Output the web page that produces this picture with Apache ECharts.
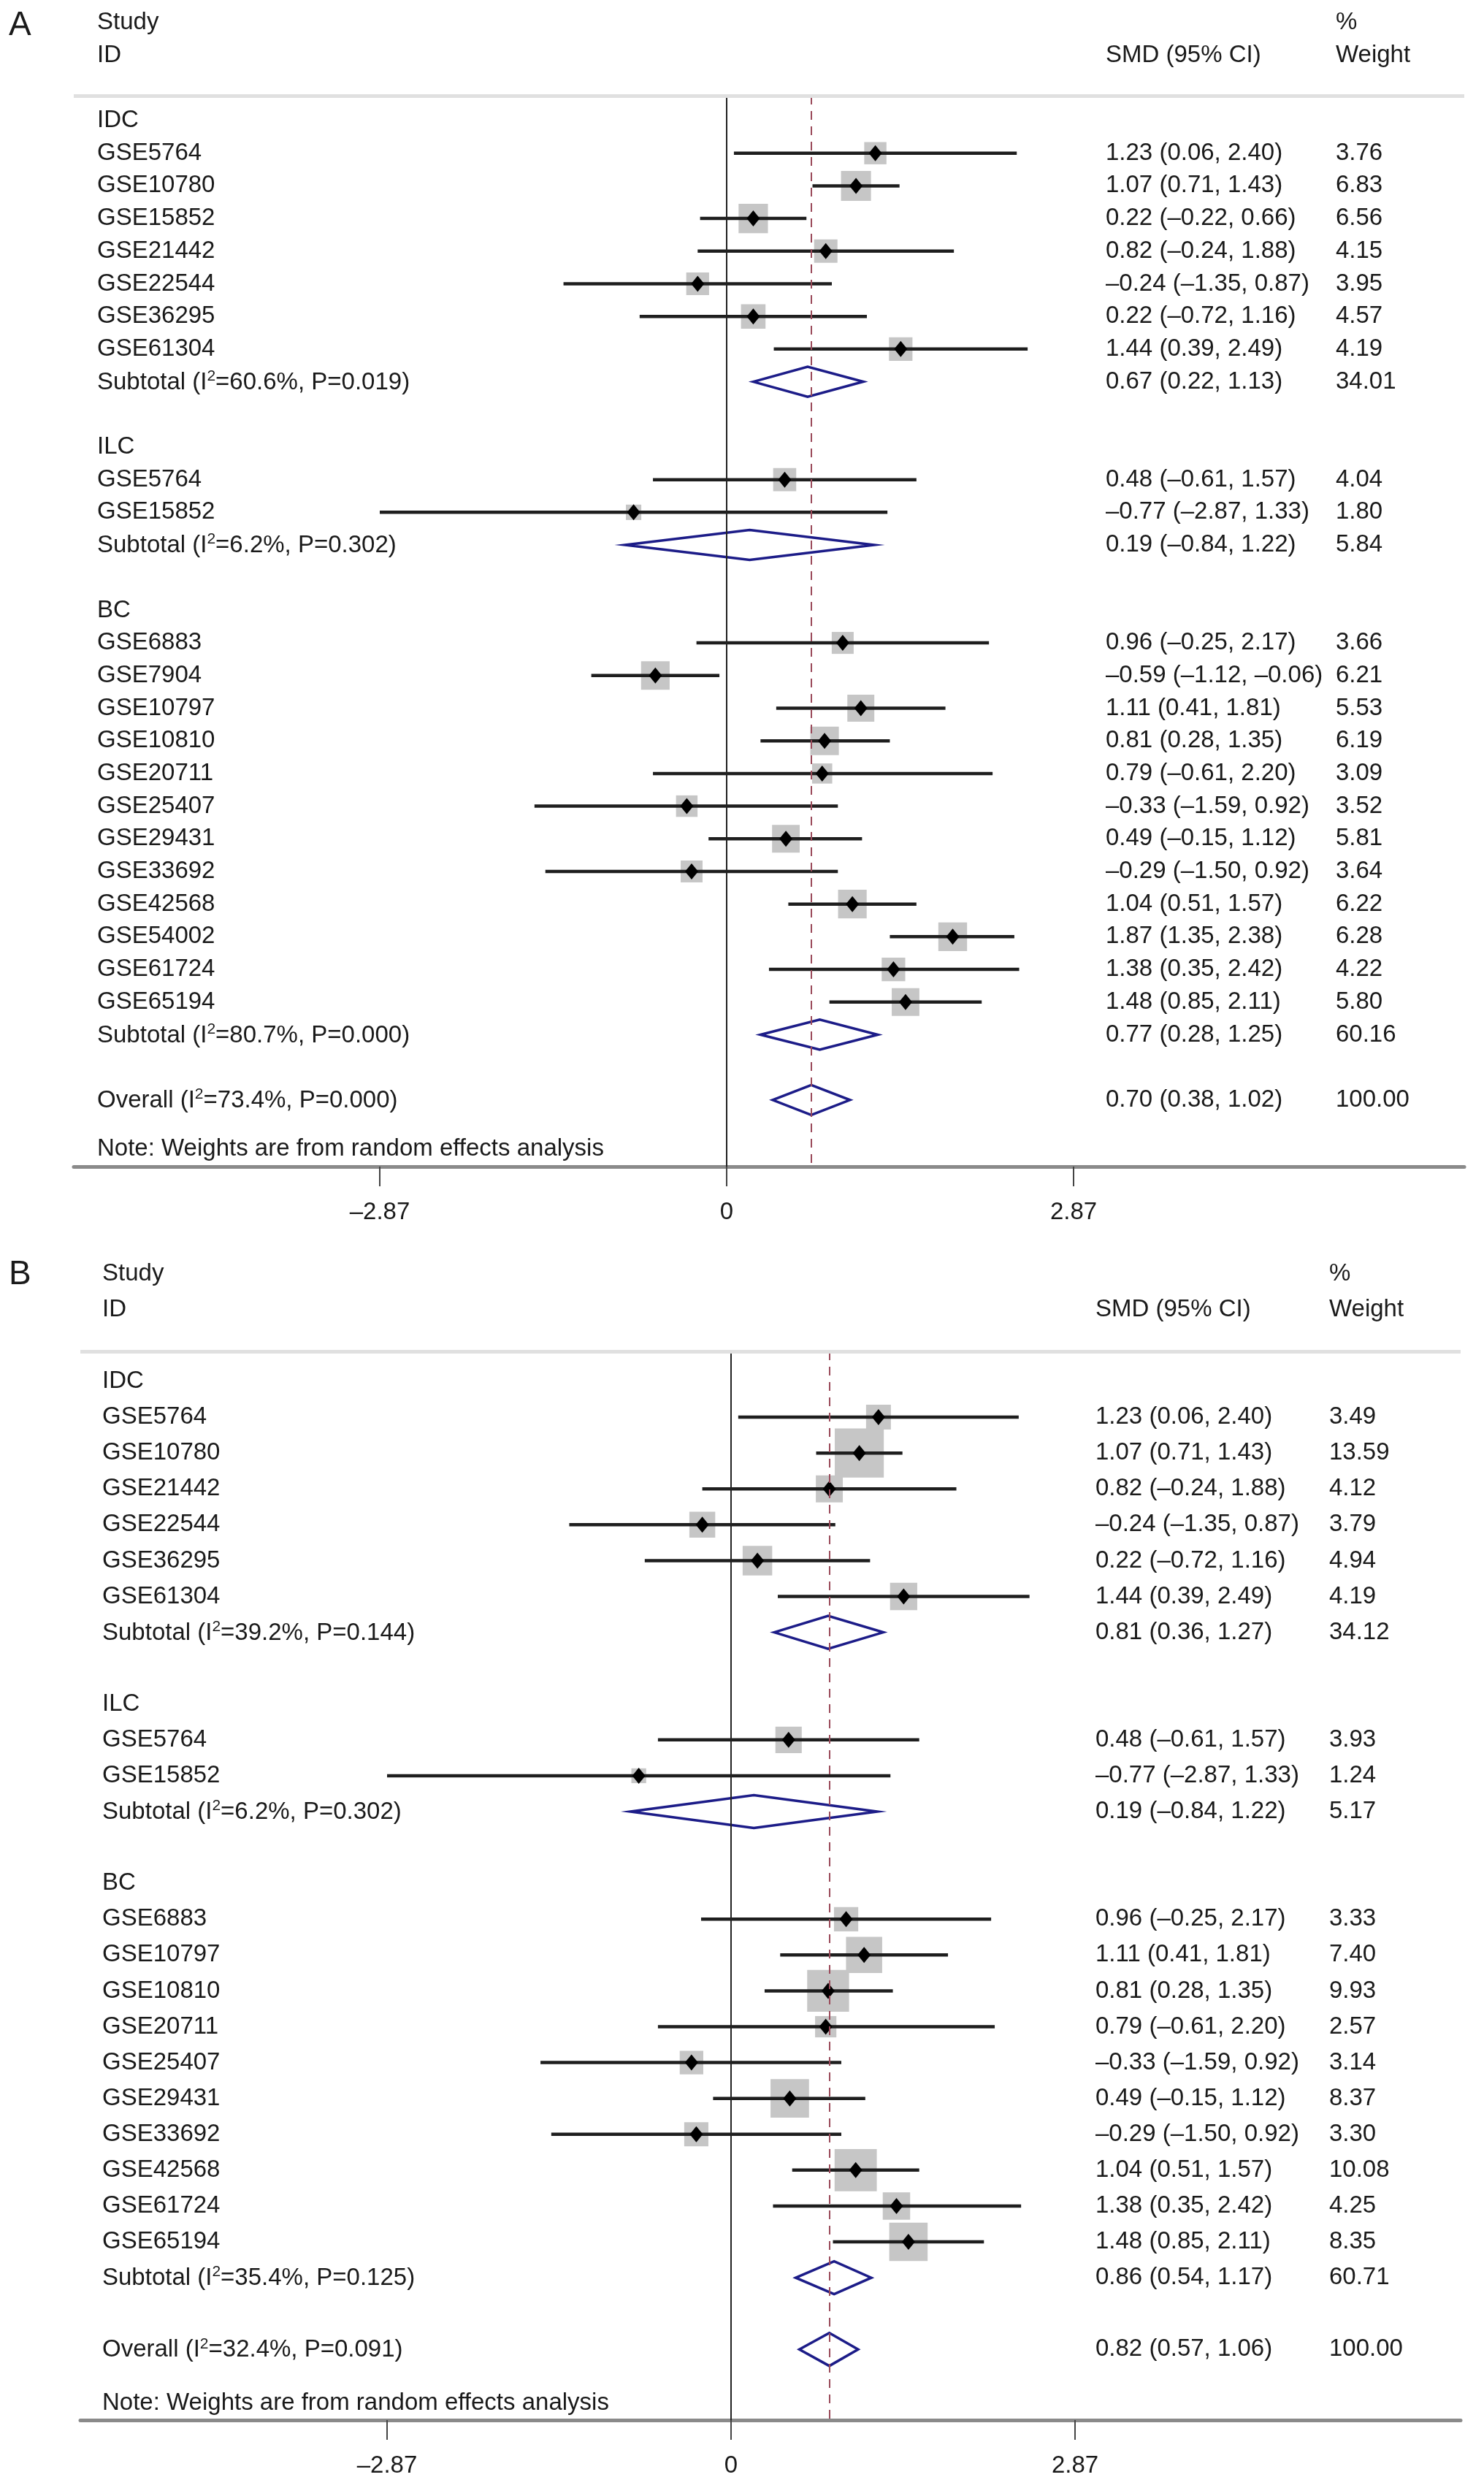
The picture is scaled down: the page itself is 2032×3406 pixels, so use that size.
<!DOCTYPE html>
<html>
<head>
<meta charset="utf-8">
<script src="https://cdn.jsdelivr.net/npm/echarts@6/dist/echarts.min.js"></script>
<style>
  html, body { margin: 0; padding: 0; background: #fff; }
  #chart { width: 2032px; height: 3406px; }
</style>
</head>
<body>
<div id="chart"></div>
<script>
const FONT = '"Liberation Sans", Arial, sans-serif';

// study rows: [id, SMD, lower, upper, weight]
const idcA = [
  ['GSE5764', 1.23, 0.06, 2.40, 3.76],
  ['GSE10780', 1.07, 0.71, 1.43, 6.83],
  ['GSE15852', 0.22, -0.22, 0.66, 6.56],
  ['GSE21442', 0.82, -0.24, 1.88, 4.15],
  ['GSE22544', -0.24, -1.35, 0.87, 3.95],
  ['GSE36295', 0.22, -0.72, 1.16, 4.57],
  ['GSE61304', 1.44, 0.39, 2.49, 4.19]
];
const ilcA = [
  ['GSE5764', 0.48, -0.61, 1.57, 4.04],
  ['GSE15852', -0.77, -2.87, 1.33, 1.80]
];
const bcA = [
  ['GSE6883', 0.96, -0.25, 2.17, 3.66],
  ['GSE7904', -0.59, -1.12, -0.06, 6.21],
  ['GSE10797', 1.11, 0.41, 1.81, 5.53],
  ['GSE10810', 0.81, 0.28, 1.35, 6.19],
  ['GSE20711', 0.79, -0.61, 2.20, 3.09],
  ['GSE25407', -0.33, -1.59, 0.92, 3.52],
  ['GSE29431', 0.49, -0.15, 1.12, 5.81],
  ['GSE33692', -0.29, -1.50, 0.92, 3.64],
  ['GSE42568', 1.04, 0.51, 1.57, 6.22],
  ['GSE54002', 1.87, 1.35, 2.38, 6.28],
  ['GSE61724', 1.38, 0.35, 2.42, 4.22],
  ['GSE65194', 1.48, 0.85, 2.11, 5.80]
];
// pooled rows: [I2, P, SMD, lower, upper, weight]
const subA = [
  ['60.6', '0.019', 0.67, 0.22, 1.13, 34.01],
  ['6.2', '0.302', 0.19, -0.84, 1.22, 5.84],
  ['80.7', '0.000', 0.77, 0.28, 1.25, 60.16]
];
const overallA = ['73.4', '0.000', 0.70, 0.38, 1.02, 100.00];

const idcB = [
  ['GSE5764', 1.23, 0.06, 2.40, 3.49],
  ['GSE10780', 1.07, 0.71, 1.43, 13.59],
  ['GSE21442', 0.82, -0.24, 1.88, 4.12],
  ['GSE22544', -0.24, -1.35, 0.87, 3.79],
  ['GSE36295', 0.22, -0.72, 1.16, 4.94],
  ['GSE61304', 1.44, 0.39, 2.49, 4.19]
];
const ilcB = [
  ['GSE5764', 0.48, -0.61, 1.57, 3.93],
  ['GSE15852', -0.77, -2.87, 1.33, 1.24]
];
const bcB = [
  ['GSE6883', 0.96, -0.25, 2.17, 3.33],
  ['GSE10797', 1.11, 0.41, 1.81, 7.40],
  ['GSE10810', 0.81, 0.28, 1.35, 9.93],
  ['GSE20711', 0.79, -0.61, 2.20, 2.57],
  ['GSE25407', -0.33, -1.59, 0.92, 3.14],
  ['GSE29431', 0.49, -0.15, 1.12, 8.37],
  ['GSE33692', -0.29, -1.50, 0.92, 3.30],
  ['GSE42568', 1.04, 0.51, 1.57, 10.08],
  ['GSE61724', 1.38, 0.35, 2.42, 4.25],
  ['GSE65194', 1.48, 0.85, 2.11, 8.35]
];
const subB = [
  ['39.2', '0.144', 0.81, 0.36, 1.27, 34.12],
  ['6.2', '0.302', 0.19, -0.84, 1.22, 5.17],
  ['35.4', '0.125', 0.86, 0.54, 1.17, 60.71]
];
const overallB = ['32.4', '0.091', 0.82, 0.57, 1.06, 100.00];

const groupNames = ['IDC', 'ILC', 'BC'];
const tickVals = [-2.87, 0, 2.87];

function num(v) {
  const s = Math.abs(v).toFixed(2);
  return v < 0 ? '\u2013' + s : s;
}

// "I" + superscript 2 as rich text
function poolLabel(head, t) {
  return '{n|' + head + ' (I}{s|2}{n|=' + t[0] + '%, P=' + t[1] + ')}';
}

function buildRows(groups, subs, overall) {
  const rows = [];
  rows.push({ kind: 'header', row: -3, a: 'Study', c: '%' });
  rows.push({ kind: 'header', row: -2, a: 'ID', b: 'SMD (95% CI)', c: 'Weight' });
  let r = 0;
  groups.forEach((g, gi) => {
    rows.push({ kind: 'group', row: r++, a: groupNames[gi] });
    g.forEach(s => rows.push({ kind: 'study', row: r++, a: s[0], smd: s[1], lo: s[2], hi: s[3], w: s[4] }));
    const t = subs[gi];
    rows.push({ kind: 'pool', row: r++, rich: poolLabel('Subtotal', t), smd: t[2], lo: t[3], hi: t[4], w: t[5] });
    r++;
  });
  rows.push({ kind: 'pool', row: r, rich: poolLabel('Overall', overall), smd: overall[2], lo: overall[3], hi: overall[4], w: overall[5] });
  rows.push({ kind: 'note', row: r + 1.5, a: 'Note: Weights are from random effects analysis' });
  return rows;
}

const rowsA = buildRows([idcA, ilcA, bcA], subA, overallA);
const rowsB = buildRows([idcB, ilcB, bcB], subB, overallB);

const richStyle = {
  n: { fontSize: 33, fontFamily: FONT, color: '#1a1a1a', lineHeight: 38 },
  s: { fontSize: 21, fontFamily: FONT, color: '#1a1a1a', verticalAlign: 'top', lineHeight: 22 }
};

function makeRender(rows, cfg) {
  return function (params, api) {
    const d = rows[params.dataIndex];
    const cs = params.coordSys;
    const y = api.coord([0, api.value(1)])[1];
    const step = api.size([0, 1])[1];
    const kids = [];
    const txt = (x, s) => ({
      type: 'text',
      style: { x: x, y: y, text: s, fill: '#1a1a1a', fontSize: 33, fontFamily: FONT, verticalAlign: 'middle', align: 'left' }
    });
    if (d.a) kids.push(txt(cs.x + cfg.nameX, d.a));
    if (d.rich) {
      kids.push({
        type: 'text',
        style: { x: cs.x + cfg.nameX, y: y + 1, text: d.rich, rich: richStyle, fill: '#1a1a1a', fontSize: 33, fontFamily: FONT, verticalAlign: 'middle', align: 'left' }
      });
    }
    if (d.kind === 'header') {
      if (d.b) kids.push(txt(cs.x + cfg.smdX, d.b));
      if (d.c) kids.push(txt(cs.x + cfg.wX, d.c));
    }
    if (d.kind === 'study') {
      const p = api.coord([api.value(0), api.value(1)]);
      const lo = api.coord([api.value(2), api.value(1)]);
      const hi = api.coord([api.value(3), api.value(1)]);
      const s = cfg.box * Math.sqrt(api.value(4));
      kids.push({ type: 'rect', shape: { x: p[0] - s / 2, y: y - s / 2, width: s, height: s }, style: { fill: '#c6c6c6' } });
      kids.push({ type: 'line', shape: { x1: lo[0], y1: y, x2: hi[0], y2: y }, style: { stroke: '#1e1e1e', lineWidth: 4.5 } });
      kids.push({ type: 'polygon', shape: { points: [[p[0], y - 11], [p[0] + 9, y], [p[0], y + 11], [p[0] - 9, y]] }, style: { fill: '#000' } });
    }
    if (d.kind === 'pool') {
      const p = api.coord([api.value(0), api.value(1)]);
      const lo = api.coord([api.value(2), api.value(1)]);
      const hi = api.coord([api.value(3), api.value(1)]);
      const h = step * 0.46;
      kids.push({
        type: 'polygon',
        shape: { points: [[lo[0], y], [p[0], y - h], [hi[0], y], [p[0], y + h]] },
        style: { fill: 'none', stroke: '#1c1c88', lineWidth: 3.5 }
      });
    }
    if (d.kind === 'study' || d.kind === 'pool') {
      kids.push(txt(cs.x + cfg.smdX, num(d.smd) + ' (' + num(d.lo) + ', ' + num(d.hi) + ')'));
      kids.push(txt(cs.x + cfg.wX, d.w.toFixed(2)));
    }
    return { type: 'group', children: kids };
  };
}

function xAxisFor(gi, min, max) {
  return {
    type: 'value', gridIndex: gi, min: min, max: max,
    axisLine: { show: true, onZero: false, lineStyle: { color: '#8a8a8a', width: 5 } },
    axisTick: { show: true, customValues: tickVals, length: 27, lineStyle: { color: '#444', width: 2 } },
    axisLabel: {
      show: true, customValues: tickVals, margin: 46, color: '#1a1a1a', fontSize: 33, fontFamily: FONT,
      formatter: v => (v === 0 ? '0' : num(v))
    },
    splitLine: { show: false }
  };
}

function yAxisFor(gi, min, max) {
  return { type: 'value', gridIndex: gi, min: min, max: max, inverse: true, show: false, splitLine: { show: false } };
}

function refLines(gi, yMin, overall) {
  return {
    type: 'line', xAxisIndex: gi, yAxisIndex: gi, data: [], z: 1, silent: true,
    markLine: {
      silent: true, symbol: 'none', label: { show: false }, animation: false,
      data: [
        { xAxis: 0, lineStyle: { color: '#222', width: 2, type: 'solid' } },
        { xAxis: overall[2], lineStyle: { color: '#9a4a5a', width: 2, type: [12, 9] } },
        { yAxis: yMin, lineStyle: { color: '#e0e0e0', width: 5, type: 'solid' } }
      ]
    }
  };
}

function forestSeries(gi, rows, cfg) {
  return {
    type: 'custom', xAxisIndex: gi, yAxisIndex: gi, z: 3, clip: false, silent: true,
    renderItem: makeRender(rows, cfg),
    encode: { x: 0, y: 1 },
    data: rows.map(r => [r.smd === undefined ? 0 : r.smd, r.row, r.lo || 0, r.hi || 0, r.w || 0])
  };
}

const yMinA = -0.761, yMaxA = 32.04;
const yMinB = -0.835, yMaxB = 28.97;

const chart = echarts.init(document.getElementById('chart'));
chart.setOption({
  backgroundColor: '#fff',
  animation: false,
  grid: [
    { left: 101, top: 131, width: 1904, height: 1466 },
    { left: 110, top: 1850, width: 1890, height: 1463 }
  ],
  xAxis: [xAxisFor(0, -5.4017, 6.1025), xAxisFor(1, -5.4293, 6.0873)],
  yAxis: [yAxisFor(0, yMinA, yMaxA), yAxisFor(1, yMinB, yMaxB)],
  graphic: [
    { type: 'text', left: 12, top: 12, style: { text: 'A', fontSize: 46, fontFamily: FONT, fill: '#1a1a1a' } },
    { type: 'text', left: 12, top: 1722, style: { text: 'B', fontSize: 46, fontFamily: FONT, fill: '#1a1a1a' } }
  ],
  series: [
    refLines(0, yMinA, overallA),
    refLines(1, yMinB, overallB),
    forestSeries(0, rowsA, { nameX: 32, smdX: 1413, wX: 1728, box: 15.7 }),
    forestSeries(1, rowsB, { nameX: 30, smdX: 1390, wX: 1710, box: 18.2 })
  ]
});
</script>
</body>
</html>
